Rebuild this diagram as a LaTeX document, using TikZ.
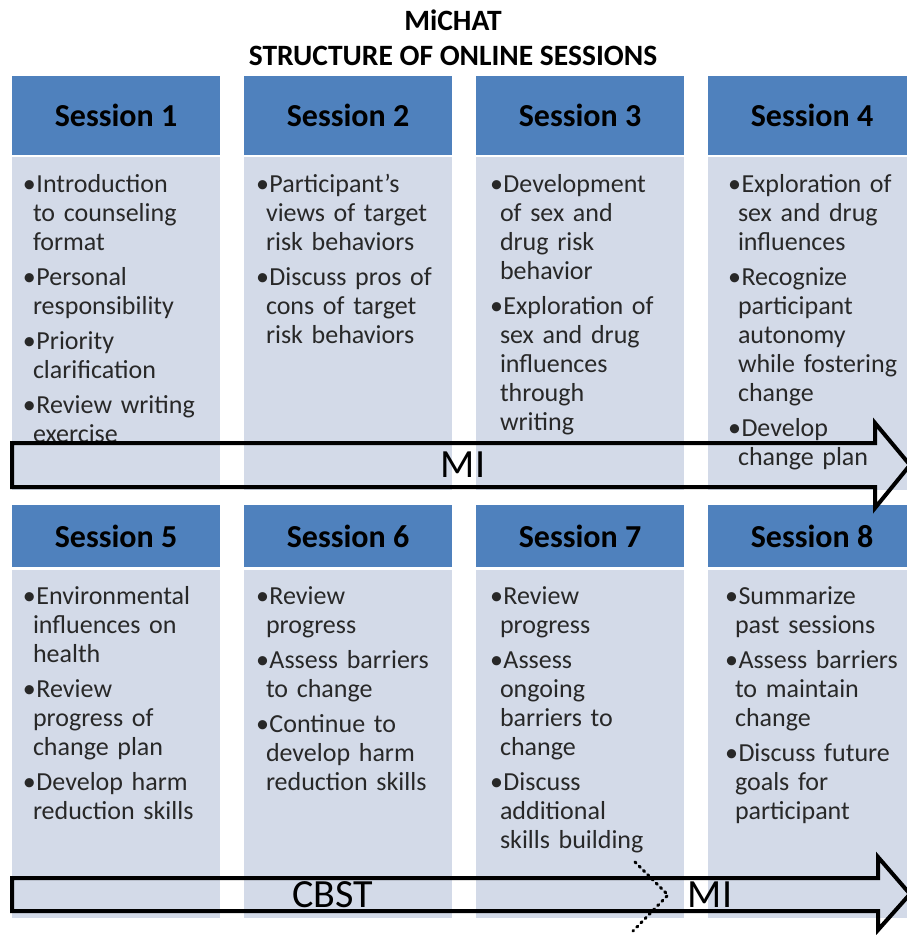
\documentclass[tikz,border=0pt]{standalone}
\usepackage{fontspec}
\setmainfont{Carlito}
\usepackage{xcolor}
\usepackage{tikz}
\usetikzlibrary{calc, math}

\definecolor{headblue}{RGB}{79,129,189}
\definecolor{bodyblue}{RGB}{211,218,232}
\definecolor{textgrey}{RGB}{40,40,40}

% bullet item with hanging indent
\newcommand{\bitem}[1]{\hangindent=10pt\hangafter=1\noindent\strut\makebox[13.5pt][l]{\textbullet}#1\par}

\begin{document}
\begin{tikzpicture}[x=1pt, y=-1pt,
    every node/.style={inner sep=0pt, outer sep=0pt},
    title/.style={font=\fontsize{29.5}{34}\selectfont\bfseries},
    head/.style={fill=headblue, minimum width=208pt, anchor=north west, font=\fontsize{32}{36}\selectfont\bfseries},
    body/.style={fill=bodyblue, minimum width=208pt, anchor=north west},
    items/.style={anchor=north west, text width=185pt, align=left, text=textgrey, font=\fontsize{26}{29}\selectfont\setlength{\parskip}{6pt}},
    phase/.style={font=\fontsize{40}{48}\selectfont},
    flow/.style={draw=black, line width=4pt, line join=miter}]
  \tikzmath{
    \rowa=76;
    \rowb=505;
  }
  \useasboundingbox (0,0) rectangle (906,935);

  \node[title] (title) at (453,20) {MiCHAT};
  \node[title] (subtitle) at (453,56) {STRUCTURE OF ONLINE SESSIONS};

  % session headers with their bodies
  \foreach \i/\x in {1/12, 2/244, 3/476, 4/708} {
    \node[head, minimum height=79pt] (s\i) at (\x,\rowa) {Session \i};
    \node[body, minimum height=333pt] (b\i) at (\x,\rowa+81) {};
  }
  \foreach \i/\x in {5/12, 6/244, 7/476, 8/708} {
    \node[head, minimum height=62pt] (s\i) at (\x,\rowb) {Session \i};
    \node[body, minimum height=348pt] (b\i) at (\x,\rowb+65) {};
  }

  % first row
  \node[items] (t1) at (23,172) {
    \bitem{Introduction\newline to counseling\newline format}
    \bitem{Personal\newline responsibility}
    \bitem{Priority\newline clarification}
    \bitem{Review writing\newline exercise}};
  \node[items] (t2) at (256,172) {
    \bitem{Participant’s\newline views of target\newline risk behaviors}
    \bitem{Discuss pros of\newline cons of target\newline risk behaviors}};
  \node[items] (t3) at (490,172) {
    \bitem{Development\newline of sex and\newline drug risk\newline behavior}
    \bitem{Exploration of\newline sex and drug\newline influences\newline through\newline writing}};
  \node[items] (t4) at (728,172) {
    \bitem{Exploration of\newline sex and drug\newline influences}
    \bitem{Recognize\newline participant\newline autonomy\newline while fostering\newline change}
    \bitem{Develop\newline change plan}};

  % second row
  \node[items] (t5) at (23,584.5) {
    \bitem{Environmental\newline influences on\newline health}
    \bitem{Review\newline progress of\newline change plan}
    \bitem{Develop harm\newline reduction skills}};
  \node[items] (t6) at (256,584.5) {
    \bitem{Review\newline progress}
    \bitem{Assess barriers\newline to change}
    \bitem{Continue to\newline develop harm\newline reduction skills}};
  \node[items] (t7) at (490,584.5) {
    \bitem{Review\newline progress}
    \bitem{Assess\newline ongoing\newline barriers to\newline change}
    \bitem{Discuss\newline additional\newline skills building}};
  \node[items] (t8) at (725,584.5) {
    \bitem{Summarize\newline past sessions}
    \bitem{Assess barriers\newline to maintain\newline change}
    \bitem{Discuss future\newline goals for\newline participant}};

  % MI arrow over sessions 1-4
  \draw[flow] (12,443) -- (875,443) -- (875,423) -- (910,465)
    -- (875,508) -- (875,487) -- (12,487) -- cycle;
  \node[phase] (mi) at (463,465) {MI};

  % CBST then MI over sessions 5-8
  \draw[flow] (12,878) -- (878,878) -- (878,857) -- (910,894)
    -- (878,930) -- (878,911) -- (12,911) -- cycle;
  \draw[line width=3pt, line cap=round, dash pattern=on 1.5pt off 4.5pt]
    (635,862) -- (668,895) -- (633,931);
  \node[phase] (cbst) at (333,895) {CBST};
  \node[phase] (mib) at (710,895) {MI};
\end{tikzpicture}
\end{document}
